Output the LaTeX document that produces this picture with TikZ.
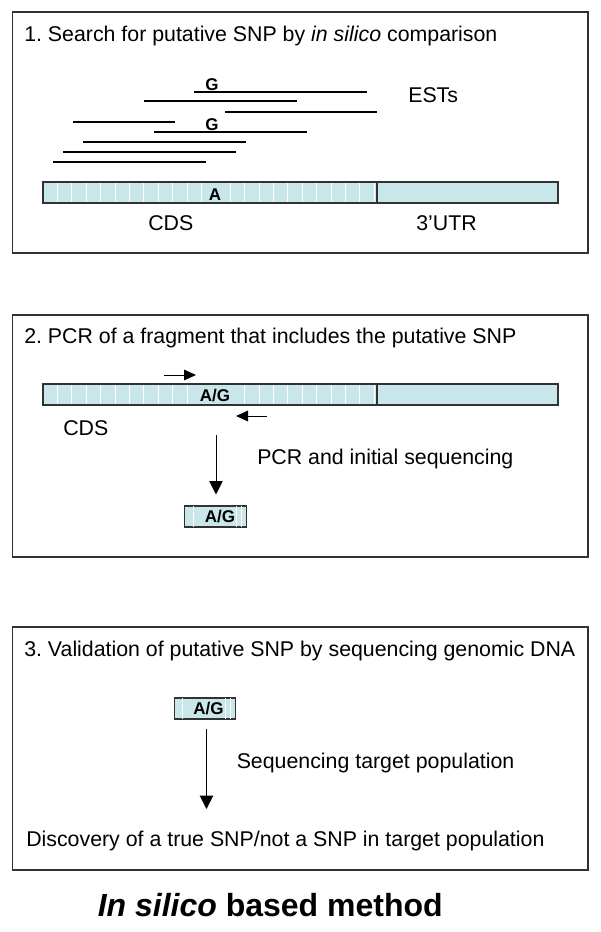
\documentclass[tikz,border=0pt]{standalone}
\usepackage{fontspec}
\setmainfont{Liberation Sans}
\usetikzlibrary{arrows.meta}

\definecolor{dnafill}{RGB}{201,230,234}
\definecolor{frameclr}{RGB}{50,50,50}

% transcript bar: #1 = top edge, #2 = stripes that are shown
\newcommand{\mrnabar}[2]{%
  \fill[dnafill] (43,#1) rectangle (558,#1+21);
  \foreach \k in {#2}
    \draw[white, line width=0.6pt] (43+14.4*\k,#1+0.6) -- (43+14.4*\k,#1+20.4);
  \draw[frameclr, line width=0.8pt] (43,#1) rectangle (558,#1+21) (377,#1) -- (377,#1+21);}

\begin{document}
\frenchspacing
\begin{tikzpicture}[x=0.75pt, y=-0.75pt,
    Frame/.style={draw=frameclr, line width=1pt},
    Txt/.style={font=\fontsize{16}{19}\selectfont, anchor=base west, inner sep=0pt},
    Tag/.style={font=\fontsize{12.75}{15}\selectfont\bfseries, anchor=base, inner sep=0pt},
    Est/.style={line width=0.8pt},
    Arr/.style={-{Triangle[length=10pt,width=10pt]}, line width=0.75pt},
    Primer/.style={-{Triangle[length=9pt,width=8pt]}, line width=0.75pt},
    Frag/.style={draw=frameclr, fill=dnafill, line width=0.8pt, inner sep=0pt,
      minimum width=46.2pt, minimum height=15.75pt}
  ]
\useasboundingbox (0,0) rectangle (600,932);

% 1. in silico search
\draw[Frame] (12.7,12) rectangle (588,253);
\node[Txt] (title1) at (24,41) {1. Search for putative SNP by \textit{in silico} comparison};
\foreach \xa/\xb/\yy in {194/367/92, 144/297/101, 225/377/112, 73/175/122,
    154/307/132, 83/246/142, 63/236/152, 53/206/162}
  \draw[Est] (\xa,\yy) -- (\xb,\yy);
\node[Tag] (g1) at (212,90) {G};
\node[Tag] (g2) at (212,130) {G};
\node[Txt] (ests) at (408,102) {ESTs};
\mrnabar{182}{1,...,11,13,14,...,23}
\node[Tag] (a1) at (215,200) {A};
\node[Txt] (cds1) at (148,230) {CDS};
\node[Txt] (utr1) at (416,230) {3'UTR};

% 2. PCR
\draw[Frame] (12.7,315) rectangle (588,557);
\node[Txt] (title2) at (24,343) {2. PCR of a fragment that includes the putative SNP};
\mrnabar{384}{1,...,10,14,15,...,23}
\node[Tag] (ag2) at (215,401.5) {A/G};
\coordinate (fwdS) at (164,375);
\coordinate (fwdE) at (196,375);
\coordinate (revS) at (267,416);
\coordinate (revE) at (236,416);
\draw[Primer] (fwdS) -- (fwdE);
\draw[Primer] (revS) -- (revE);
\node[Txt] (cds2) at (63,435) {CDS};
\node[Frag] (frag2) at (215.7,516.5) {};
\foreach \dx in {6.75pt,39pt,42.75pt}
  \draw[white, line width=0.6pt] ([xshift=\dx,yshift=-0.6pt]frag2.north west) -- ([xshift=\dx,yshift=0.6pt]frag2.south west);
\node[Tag] (frag2ag) at (220,522.5) {A/G};
\coordinate (pcrTop) at (216,435);
\draw[Arr, shorten >=8.25pt] (pcrTop) -- (pcrTop |- frag2.north);
\node[Txt] (pcr) at (257,464) {PCR and initial sequencing};

% 3. validation
\draw[Frame] (12.7,627) rectangle (588,870);
\node[Txt] (title3) at (24,656) {3. Validation of putative SNP by sequencing genomic DNA};
\node[Frag] (frag3) at (205,708.5) {};
\foreach \dx in {6.75pt,39pt,42.75pt}
  \draw[white, line width=0.6pt] ([xshift=\dx,yshift=-0.6pt]frag3.north west) -- ([xshift=\dx,yshift=0.6pt]frag3.south west);
\node[Tag] (frag3ag) at (208.5,714.5) {A/G};
\coordinate (seqEnd) at (206.5,809);
\draw[Arr, shorten <=6.75pt] (frag3.south -| seqEnd) -- (seqEnd);
\node[Txt] (seq) at (236.5,768) {Sequencing target population};
\node[Txt] (disc) at (26,846) {Discovery of a true SNP/not a SNP in target population};

\node[Txt, font=\fontsize{24}{29}\selectfont\bfseries] (method) at (97.5,916.5) {\textit{In silico} based method};
\end{tikzpicture}
\end{document}
